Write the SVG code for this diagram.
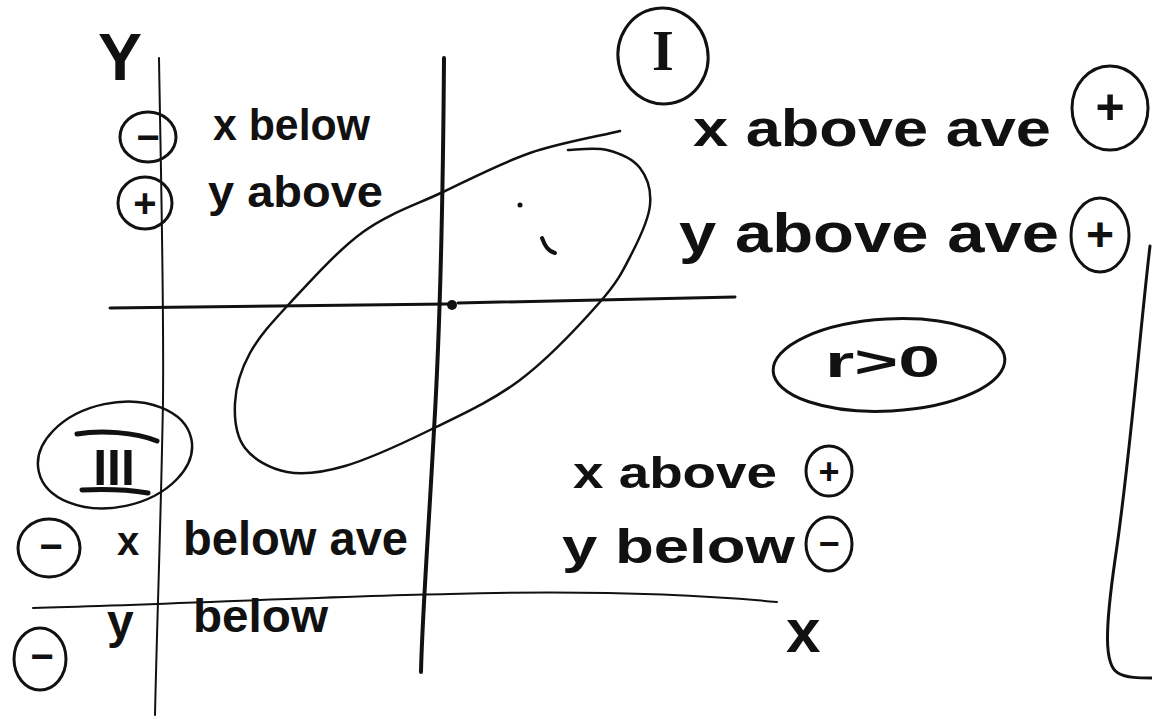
<svg xmlns="http://www.w3.org/2000/svg" width="1152" height="719" viewBox="0 0 1152 719">
<style>
.ink{fill:none;stroke:#111;stroke-linecap:round;stroke-linejoin:round}
.t{font-family:"Liberation Sans",Arial,sans-serif;font-weight:bold;fill:#111}
.s{font-family:"Liberation Sans",Arial,sans-serif;font-weight:bold;fill:#111;text-anchor:middle}
</style>
<rect width="1152" height="719" fill="#fff"/>
<g id="axes">
<path class="ink" stroke-width="2" d="M159,58 C161,180 164,300 163,400 C161,520 157,620 155,715"/>
<path class="ink" stroke-width="4" d="M444,58 C443,200 440,330 434,430 C428,540 422,620 421,672"/>
<path class="ink" stroke-width="3" d="M110,308 C250,306 380,305 448,304 M458,303 C560,301 660,298 735,297"/>
<path class="ink" stroke-width="2" d="M33,608 C160,605 330,596 450,594 C560,591 680,593 777,602"/>
<path class="ink" stroke-width="3" d="M1150,246 C1140,330 1130,460 1115,560 C1105,630 1104,665 1118,673 C1126,678 1140,678 1152,678"/>
</g>
<g id="scatter">
<path class="ink" stroke-width="2.5" d="M620,131 C605,135 559.5,142.8 530,153 C500.5,163.2 470.8,178.8 443,192 C415.2,205.2 388.5,213.5 363,232 C337.5,250.5 308.8,282.8 290,303 C271.2,323.2 259.2,336.3 250,353 C240.8,369.7 235.8,387.2 235,403 C234.2,418.8 236.3,436.5 245,448 C253.7,459.5 270.3,469 287,472 C303.7,475 321.2,473 345,466 C368.8,459 400.8,444.3 430,430 C459.2,415.7 491.7,401.3 520,380 C548.3,358.7 581.3,323.2 600,302 C618.7,280.8 623.7,269.2 632,253 C640.3,236.8 648.7,219.2 650,205 C651.3,190.8 647.2,177.2 640,168 C632.8,158.8 619,153 607,150 C595,147 574.5,150 568,150"/>
<circle cx="452" cy="305" r="5" fill="#111"/>
<circle cx="520" cy="205" r="2.5" fill="#111"/>
<path class="ink" stroke-width="4" d="M542,238 C545,246 548,251 555,253"/>
</g>
<g id="label-Y"><text class="t" x="98" y="80" font-size="66" font-weight="normal">Y</text></g>
<g id="label-x-axis"><text class="t" x="786" y="652" font-size="62" font-weight="normal">x</text></g>
<g id="quadrant-II">
<ellipse class="ink" stroke-width="3" cx="148" cy="137" rx="28" ry="25"/>
<text class="s" x="148" y="151" font-size="40">−</text>
<ellipse class="ink" stroke-width="3" cx="145" cy="203" rx="27" ry="26"/>
<text class="s" x="145" y="217" font-size="40">+</text>
<text class="t" x="213" y="140" font-size="44" textLength="157" lengthAdjust="spacingAndGlyphs">x below</text>
<text class="t" x="208" y="207" font-size="44" textLength="175" lengthAdjust="spacingAndGlyphs">y above</text>
</g>
<g id="quadrant-I">
<ellipse class="ink" stroke-width="3" cx="663" cy="56" rx="45" ry="48" transform="rotate(-10 663 56)"/>
<text class="s" x="663" y="70" font-size="56" style="font-family:'Liberation Serif',serif">I</text>
<text class="t" x="693" y="146" font-size="52" textLength="358" lengthAdjust="spacingAndGlyphs">x above ave</text>
<ellipse class="ink" stroke-width="3" cx="1110" cy="108" rx="38" ry="42"/>
<text class="s" x="1110" y="124" font-size="50">+</text>
<text class="t" x="679" y="252" font-size="56" textLength="380" lengthAdjust="spacingAndGlyphs">y above ave</text>
<ellipse class="ink" stroke-width="3" cx="1100" cy="235" rx="29" ry="37"/>
<text class="s" x="1100" y="251" font-size="48">+</text>
</g>
<g id="correlation">
<ellipse class="ink" stroke-width="3" cx="889" cy="365" rx="116" ry="46" transform="rotate(-3 889 365)"/>
<text class="t" x="825" y="377" font-size="44" textLength="115" lengthAdjust="spacingAndGlyphs">r&gt;0</text>
</g>
<g id="quadrant-IV">
<text class="t" x="573" y="488" font-size="44" textLength="204" lengthAdjust="spacingAndGlyphs">x above</text>
<ellipse class="ink" stroke-width="3" cx="829" cy="471" rx="23" ry="25"/>
<text class="s" x="829" y="484" font-size="36">+</text>
<text class="t" x="562" y="563" font-size="48" textLength="233" lengthAdjust="spacingAndGlyphs">y below</text>
<ellipse class="ink" stroke-width="3" cx="829" cy="544" rx="23" ry="27"/>
<text class="s" x="829" y="556" font-size="36">−</text>
</g>
<g id="quadrant-III">
<ellipse class="ink" stroke-width="2.5" cx="115" cy="455" rx="78" ry="52" transform="rotate(-12 115 455)"/>
<path class="ink" stroke-width="5" d="M77,434 C100,430 135,432 157,441 M82,490 C105,489 130,490 148,493"/>
<text class="s" x="114" y="485" font-size="50">III</text>
<ellipse class="ink" stroke-width="3" cx="49" cy="548" rx="31" ry="29"/>
<text class="s" x="51" y="560" font-size="40">−</text>
<text class="t" x="117" y="555" font-size="40">x</text>
<text class="t" x="183" y="555" font-size="48" textLength="225" lengthAdjust="spacingAndGlyphs">below ave</text>
<ellipse class="ink" stroke-width="3" cx="40" cy="659" rx="26" ry="31"/>
<text class="s" x="42" y="670" font-size="40">−</text>
<text class="t" x="107" y="638" font-size="48">y</text>
<text class="t" x="193" y="632" font-size="46" textLength="135" lengthAdjust="spacingAndGlyphs">below</text>
</g>
</svg>
